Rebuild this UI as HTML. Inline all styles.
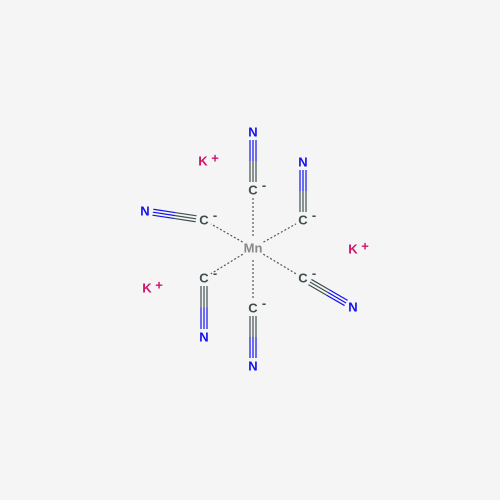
<!DOCTYPE html>
<html><head><meta charset="utf-8"><style>
html,body{margin:0;padding:0;background:#f5f5f5}
svg{display:block}
text{font-family:"Liberation Sans",sans-serif;font-weight:bold;font-size:13px;text-anchor:middle;dominant-baseline:central}
</style></head><body>
<svg id="mol" width="500" height="500" viewBox="0 0 500 500">
<rect width="500" height="500" fill="#f5f5f5"/>
</svg>
<script>
const mn=[253,248];
const carbons=[[253,190],[303,220],[204,220],[204,278],[253,308],[303,278]];
const nitrogens=[[253,132],[303,162],[145,211],[204,337],[253,366],[353,307]];
const potassium=[[203,161],[353,249],[147,288]];
const svg=document.getElementById('mol');
const NS='http://www.w3.org/2000/svg';
function line(x1,y1,x2,y2,c,w,dash,name){
  const l=document.createElementNS(NS,'line');
  l.setAttribute('x1',x1);l.setAttribute('y1',y1);l.setAttribute('x2',x2);l.setAttribute('y2',y2);
  l.setAttribute('stroke',c);l.setAttribute('stroke-width',w);
  if(dash)l.setAttribute('stroke-dasharray',dash);
  
  
  svg.appendChild(l);
}
function text(x,y,s,c,name,size){
  const t=document.createElementNS(NS,'text');
  t.setAttribute('x',x);t.setAttribute('y',y);t.setAttribute('fill',c);
  if(size)t.setAttribute('font-size',size);
  t.textContent=s;
  
  
  svg.appendChild(t);
}
carbons.forEach((c,i)=>{
  const dx=c[0]-mn[0],dy=c[1]-mn[1],L=Math.hypot(dx,dy),ux=dx/L,uy=dy/L;
  line(mn[0]+ux*12,mn[1]+uy*12,c[0]-ux*8,c[1]-uy*8,'#555',1.2,'2,2','coordination-bond');
  const n=nitrogens[i];
  const ex=n[0]-c[0],ey=n[1]-c[1],M=Math.hypot(ex,ey),vx=ex/M,vy=ey/M,px=-vy,py=vx;
  const sx=c[0]+vx*8,sy=c[1]+vy*8,tx=n[0]-vx*8,ty=n[1]-vy*8,mx=(sx+tx)/2,my=(sy+ty)/2;
  [-3,0,3].forEach(o=>{
    line(sx+px*o,sy+py*o,mx+px*o,my+py*o,'#3f4f4f',1.2,null,'triple-bond-c-half');
    line(mx+px*o,my+py*o,tx+px*o,ty+py*o,'#1010ee',1.2,null,'triple-bond-n-half');
  });
});
text(mn[0],mn[1],'Mn','#888','manganese-atom');
carbons.forEach(c=>{text(c[0],c[1],'C','#3f4f4f','carbon-atom');text(c[0]+11,c[1]-5,'-','#3f4f4f','carbon-charge',11);});
nitrogens.forEach(n=>text(n[0],n[1],'N','#1010ee','nitrogen-atom'));
potassium.forEach(k=>{text(k[0],k[1],'K','#d0156b','potassium-atom');text(k[0]+12,k[1]-3,'+','#d0156b','potassium-charge',10);});
</script>
</body></html>
